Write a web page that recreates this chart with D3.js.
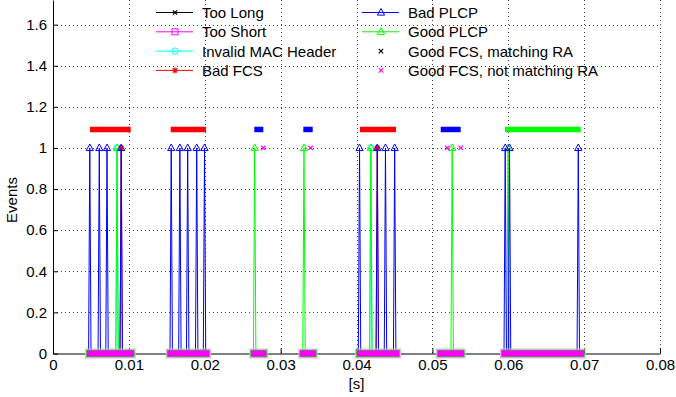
<!DOCTYPE html>
<html>
<head>
<meta charset="utf-8">
<script src="https://cdn.jsdelivr.net/npm/d3@7"></script>
<style>
  html, body { margin: 0; padding: 0; background: #fff; }
  svg { display: block; }
  text { font-family: "Liberation Sans", Arial, Helvetica, sans-serif; }
</style>
</head>
<body>
<svg id="chart" width="676" height="397"></svg>
<script>
// ---------- data ----------
const xTicks = [0, 0.01, 0.02, 0.03, 0.04, 0.05, 0.06, 0.07, 0.08];
const xTickLabels = ["0", "0.01", "0.02", "0.03", "0.04", "0.05", "0.06", "0.07", "0.08"];
const yTicks = [0, 0.2, 0.4, 0.6, 0.8, 1, 1.2, 1.4, 1.6];
const yTickLabels = ["0", "0.2", "0.4", "0.6", "0.8", "1", "1.2", "1.4", "1.6"];

// sample period of the event series (s)
const samplePeriod = 0.00016;

// times (s) at which each event series is 1 (0 elsewhere)
const tooLong = [];
const tooShort = [];
const invalidMacHeader = [0.00844, 0.04189];
const badFCS = [0.00899, 0.04274];
const badPLCP = [0.00485, 0.00610, 0.00712, 0.00899,
                 0.01558, 0.01672, 0.01775, 0.01894, 0.01997,
                 0.04040, 0.04274, 0.04382, 0.04503,
                 0.05960, 0.06017, 0.06923];
const goodPLCP = [0.00844, 0.02658, 0.03308, 0.04189, 0.05261, 0.05997];
const goodFcsMatchingRA = [];
const goodFcsNotMatchingRA = [0.02772, 0.03396, 0.05197, 0.05373];

// received frames (start, end, kind) drawn at y = frameLevel
const frameStart = [0.00488, 0.01551, 0.02653, 0.03299, 0.04046, 0.05110, 0.05957];
const frameEnd   = [0.01024, 0.02016, 0.02772, 0.03423, 0.04521, 0.05373, 0.06955];
const frameKind  = ["badFCS", "badFCS", "badPLCP", "badPLCP", "badFCS", "badPLCP", "good"];
const frameLevel = 1.09;

const legendNames = ["Too Long", "Too Short", "Invalid MAC Header", "Bad FCS",
                     "Bad PLCP", "Good PLCP", "Good FCS, matching RA", "Good FCS, not matching RA"];

// ---------- drawing ----------
const svg = d3.select("#chart");
const x = d3.scaleLinear().domain([0, 0.08]).range([53, 660]);
const y = d3.scaleLinear().domain([0, 1.72]).range([353.5, 0]);

const colors = {
  tooLong: "#000000", tooShort: "#ff00ff", invalid: "#00ffff", badFCS: "#ff0000",
  badPLCP: "#0000ff", goodPLCP: "#00ff00", match: "#000000", notMatch: "#ff00ff"
};
const frameColor = { badFCS: "#ff0000", badPLCP: "#0000ff", good: "#00ff00" };

// pattern for the dense baseline markers
const defs = svg.append("defs");
const pat = defs.append("pattern").attr("id", "dense").attr("width", 4).attr("height", 4)
  .attr("patternUnits", "userSpaceOnUse");
pat.append("rect").attr("width", 4).attr("height", 4).attr("fill", "#ff00ff");
pat.append("rect").attr("x", 1).attr("y", 1).attr("width", 1).attr("height", 1).attr("fill", "#a020a0");
pat.append("rect").attr("x", 3).attr("y", 3).attr("width", 1).attr("height", 1).attr("fill", "#c010c0");

// grid
const grid = svg.append("g");
grid.selectAll("line.gx").data(xTicks.filter(d => d > 0)).join("line")
  .attr("x1", d => Math.round(x(d)) + 0.5).attr("x2", d => Math.round(x(d)) + 0.5)
  .attr("y1", y(1.72)).attr("y2", y(0))
  .attr("stroke", "#444").attr("stroke-width", 1).attr("stroke-dasharray", "1,3");
grid.selectAll("line.gy").data(yTicks.filter(d => d > 0)).join("line")
  .attr("x1", x(0)).attr("x2", x(0.08))
  .attr("y1", d => Math.round(y(d)) + 0.5).attr("y2", d => Math.round(y(d)) + 0.5)
  .attr("stroke", "#444").attr("stroke-width", 1).attr("stroke-dasharray", "1,3");

// frame bars
svg.append("g").selectAll("line").data(frameStart.map((s, i) => ({ s, e: frameEnd[i], k: frameKind[i] })))
  .join("line")
  .attr("x1", d => x(d.s)).attr("x2", d => x(d.e))
  .attr("y1", y(frameLevel)).attr("y2", y(frameLevel))
  .attr("stroke", d => frameColor[d.k]).attr("stroke-width", 5.5);

// spike path for a series of event times
function spikePath(times) {
  return times.map(t =>
    `M${x(t - samplePeriod)},${y(0)}L${x(t)},${y(1)}L${x(t + samplePeriod)},${y(0)}`).join("");
}

const triPath = "M0,-4L3.6,2.6L-3.6,2.6Z";
function drawSeries(times, color, marker) {
  const g = svg.append("g");
  g.append("path").attr("d", spikePath(times)).attr("fill", "none")
    .attr("stroke", color).attr("stroke-width", 1);
  const m = g.selectAll("g").data(times).join("g")
    .attr("transform", d => `translate(${x(d)},${y(1)})`);
  marker(m, color);
}
function markTri(sel, c) { sel.append("path").attr("d", triPath).attr("fill", "none").attr("stroke", c).attr("stroke-width", 1); }
function markCircle(sel, c) { sel.append("circle").attr("r", 3.2).attr("fill", "none").attr("stroke", c).attr("stroke-width", 1); }
function markStar(sel, c) {
  sel.append("path").attr("d", "M-3,0L3,0M0,-3L0,3M-2.2,-2.2L2.2,2.2M-2.2,2.2L2.2,-2.2")
    .attr("stroke", c).attr("stroke-width", 1.2);
}
function markSquare(sel, c) { sel.append("rect").attr("x", -3).attr("y", -3).attr("width", 6).attr("height", 6).attr("fill", "none").attr("stroke", c); }
function markX(sel, c) {
  sel.append("path").attr("d", "M-2.2,-2.2L2.2,2.2M-2.2,2.2L2.2,-2.2").attr("stroke", c).attr("stroke-width", 1.2);
}

drawSeries(tooLong, colors.tooLong, markX);
drawSeries(tooShort, colors.tooShort, markSquare);
drawSeries(invalidMacHeader, colors.invalid, markCircle);
drawSeries(goodPLCP, colors.goodPLCP, markTri);
drawSeries(badFCS, colors.badFCS, markStar);
drawSeries(badPLCP, colors.badPLCP, markTri);

// marker-only series
svg.append("g").selectAll("g").data(goodFcsMatchingRA).join("g")
  .attr("transform", d => `translate(${x(d)},${y(1)})`).call(markX, colors.match);
svg.append("g").selectAll("g").data(goodFcsNotMatchingRA).join("g")
  .attr("transform", d => `translate(${x(d)},${y(1)})`).call(markX, colors.notMatch);

// axes
const xAxis = d3.axisBottom(x).tickValues(xTicks).tickFormat((d, i) => xTickLabels[i])
  .tickSizeInner(-5).tickSizeOuter(0).tickPadding(6);
const gx = svg.append("g").attr("transform", `translate(0,${y(0)})`).call(xAxis);
const yAxis = d3.axisLeft(y).tickValues(yTicks).tickFormat((d, i) => yTickLabels[i])
  .tickSizeInner(-5).tickSizeOuter(0).tickPadding(6);
const gy = svg.append("g").attr("transform", `translate(${x(0)},0)`).call(yAxis);
[gx, gy].forEach(g => {
  g.selectAll("text").attr("font-size", 15).attr("fill", "#000")
    .attr("font-family", "'Liberation Sans', Arial, sans-serif");
  g.select(".domain").attr("stroke", "#000");
  g.selectAll(".tick line").attr("stroke", "#000");
});

// baseline: dense zero-valued samples of all series within each frame window (drawn over the axis)
const band = svg.append("g");
const windows = frameStart.map((s, i) => ({ s, e: frameEnd[i] }));
band.selectAll("rect.halo").data(windows).join("rect")
  .attr("x", d => x(d.s) - 4.5).attr("width", d => x(d.e) - x(d.s) + 9)
  .attr("y", y(0) - 4.5).attr("height", 9)
  .attr("fill", "none").attr("stroke", "#f0b0f0").attr("stroke-width", 1);
band.selectAll("rect.core").data(windows).join("rect")
  .attr("x", d => x(d.s) - 3.5).attr("width", d => x(d.e) - x(d.s) + 7)
  .attr("y", y(0) - 3.5).attr("height", 7)
  .attr("fill", "url(#dense)").attr("stroke", "#22cc22").attr("stroke-width", 0.8);

svg.append("text").attr("x", (x(0) + x(0.08)) / 2).attr("y", 389)
  .attr("text-anchor", "middle").attr("font-size", 15).text("[s]");
svg.append("text").attr("transform", `translate(17,200) rotate(-90)`)
  .attr("text-anchor", "middle").attr("font-size", 15).text("Events");

// legend (no box)
const legendColors = [colors.tooLong, colors.tooShort, colors.invalid, colors.badFCS,
                      colors.badPLCP, colors.goodPLCP, colors.match, colors.notMatch];
const legendMarkers = [markX, markSquare, markCircle, markStar, markTri, markTri, markX, markX];
const legendHasLine = [true, true, true, true, true, true, false, false];
const leg = svg.append("g");
legendNames.forEach((name, i) => {
  const col = Math.floor(i / 4), row = i % 4;
  const lx = col === 0 ? 156 : 362;
  const ly = 12.5 + row * 19.3;
  const g = leg.append("g").attr("transform", `translate(${lx},${ly})`);
  if (legendHasLine[i]) {
    g.append("line").attr("x1", 0).attr("x2", 37).attr("y1", 0).attr("y2", 0)
      .attr("stroke", legendColors[i]).attr("stroke-width", 1);
  }
  const m = g.append("g").attr("transform", "translate(19,0)");
  legendMarkers[i](m, legendColors[i]);
  g.append("text").attr("x", 46).attr("y", 0).attr("dy", "0.36em")
    .attr("font-size", 15).text(name);
});
</script>
</body>
</html>
